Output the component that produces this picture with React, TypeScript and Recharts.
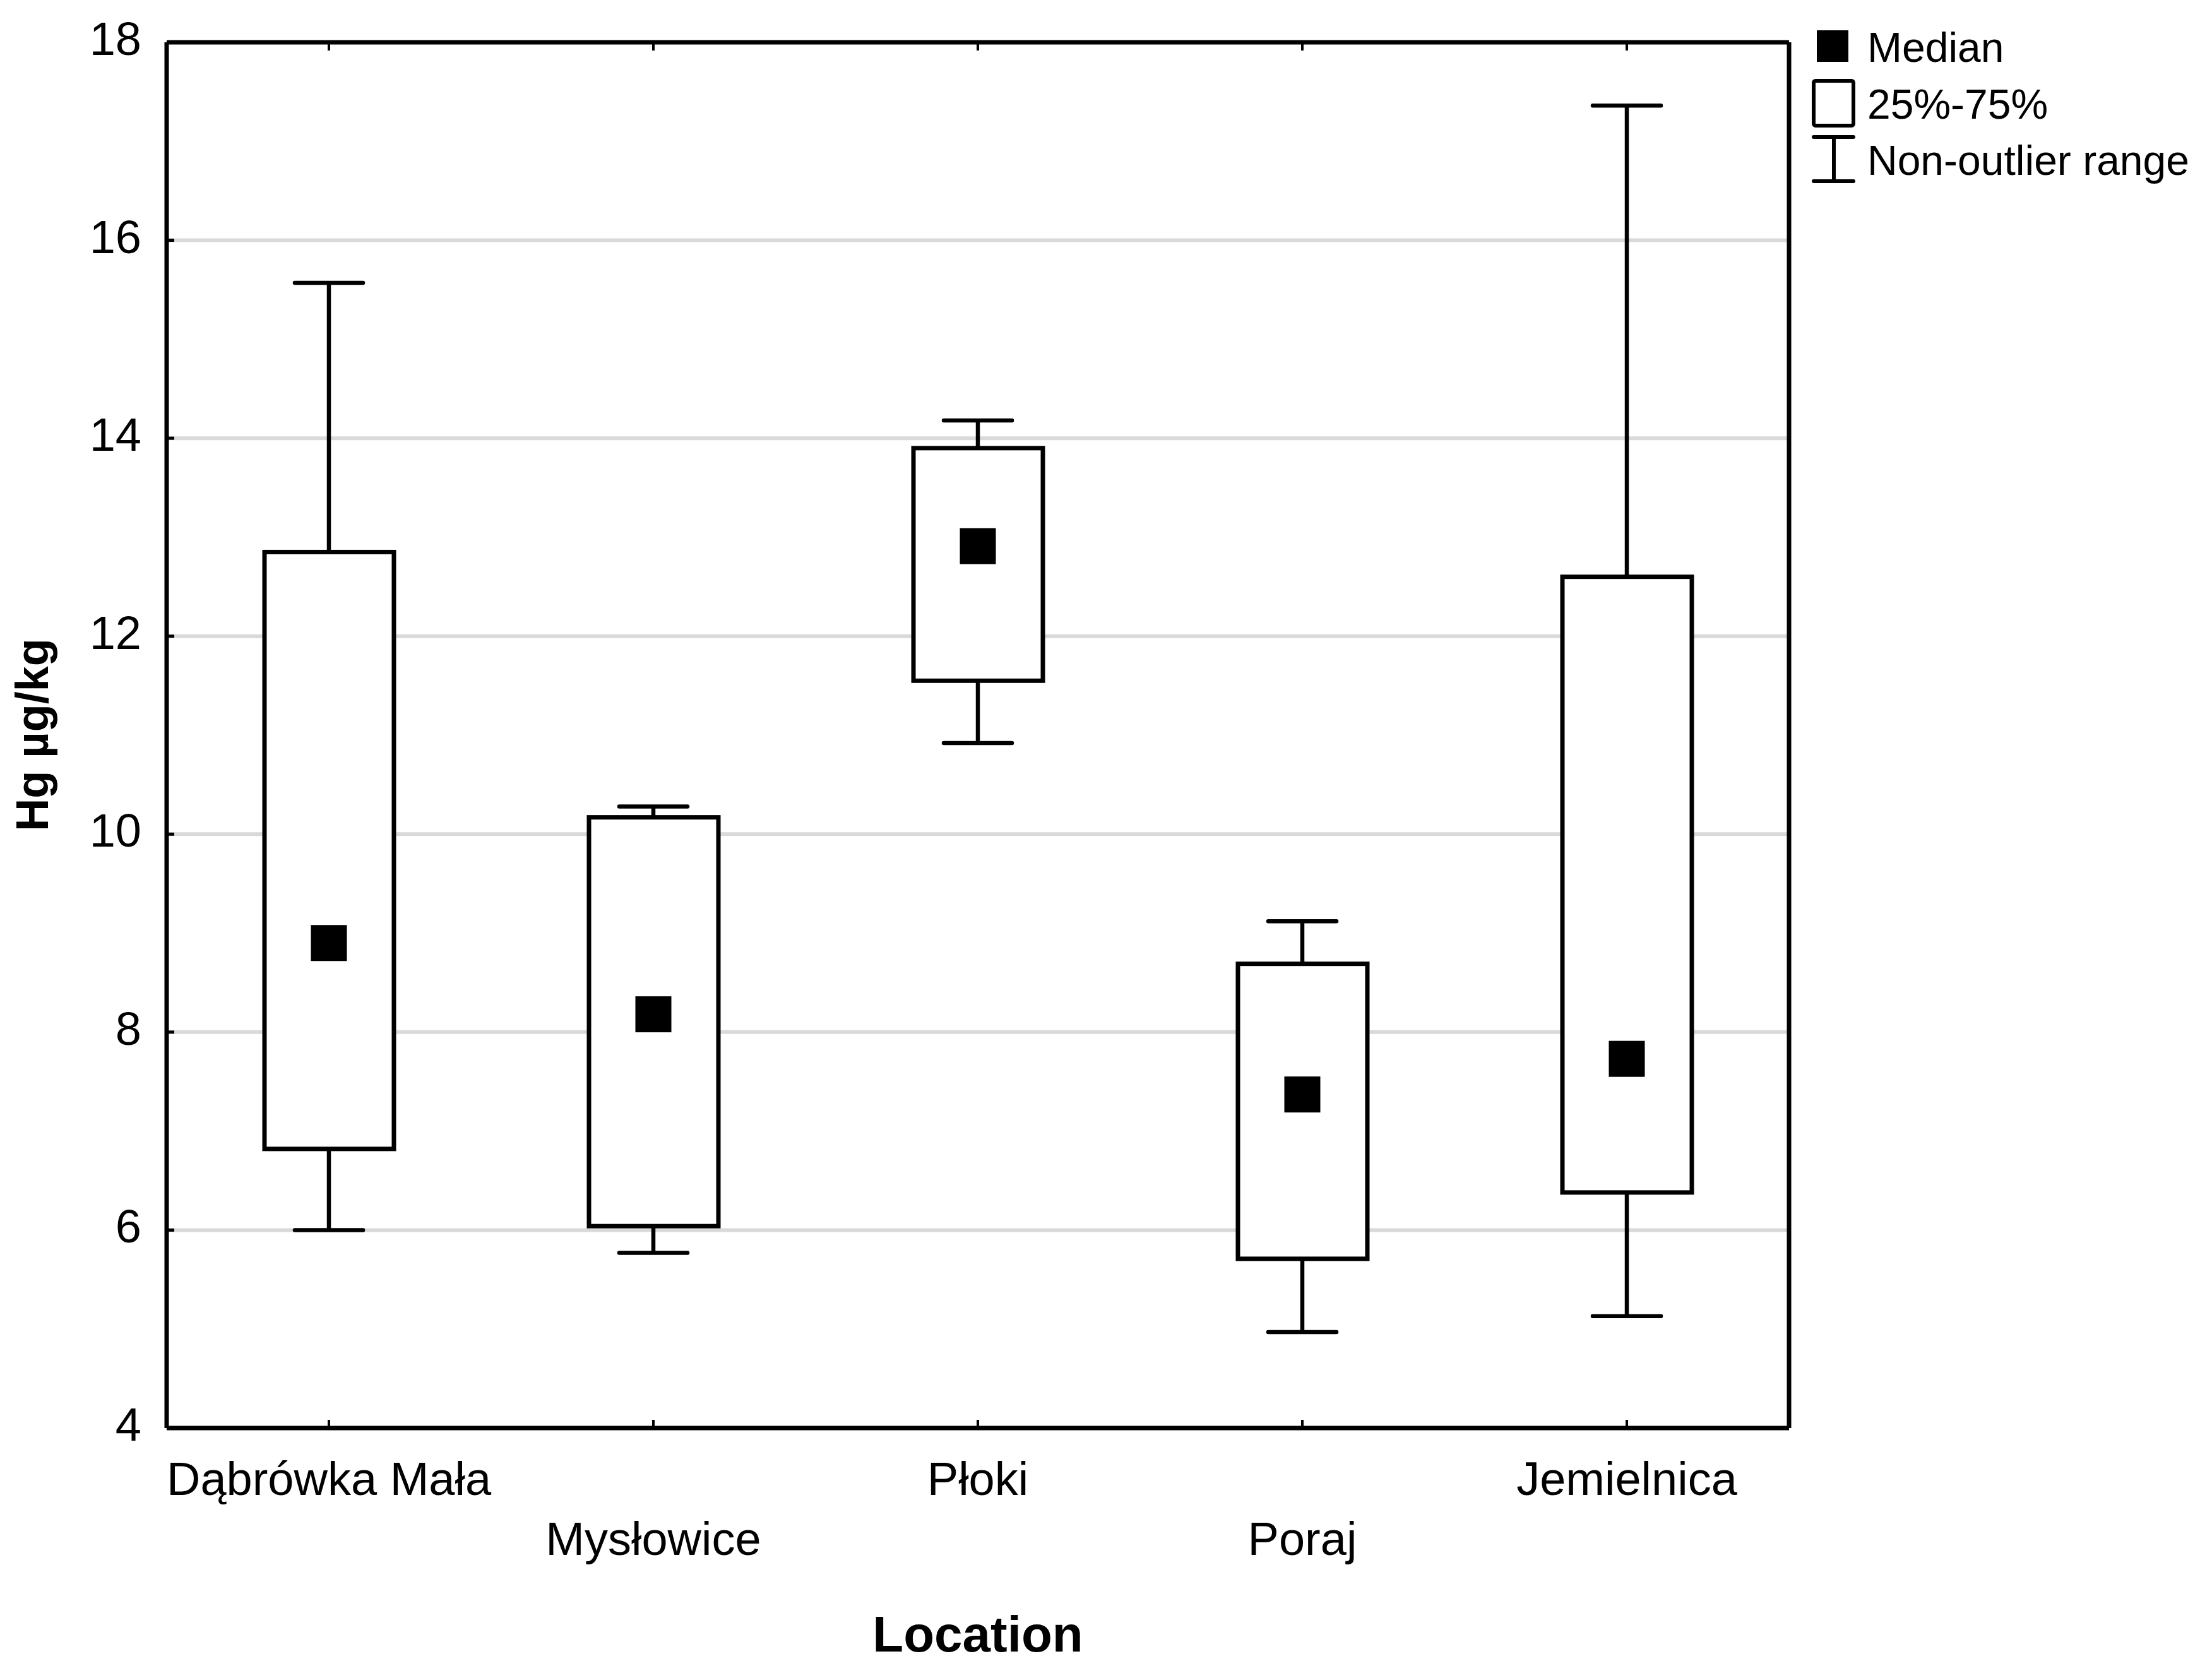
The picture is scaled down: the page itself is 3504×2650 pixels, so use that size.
import React from 'react'
import { ComposedChart, Bar, Line, XAxis, YAxis, CartesianGrid } from 'recharts'

// Hg content per sampling location (box = 25%-75%, whiskers = non-outlier range)
const locations = ['Dąbrówka Mała', 'Mysłowice', 'Płoki', 'Poraj', 'Jemielnica']
const medians = [8.9, 8.18, 12.91, 7.37, 7.73]
const q1 = [6.82, 6.04, 11.55, 5.71, 6.38]
const q3 = [12.85, 10.17, 13.9, 8.69, 12.6]
const lows = [6.0, 5.77, 10.92, 4.97, 5.13]
const highs = [15.57, 10.28, 14.18, 9.12, 17.36]
const yTicks = [4, 6, 8, 10, 12, 14, 16, 18]

const FONT = '"Liberation Sans", Arial, sans-serif'

const data = locations.map((name, i) => ({
    name,
    median: medians[i],
    iqr: [q1[i], q3[i]],
    range: [lows[i], highs[i]],
}))

const BoxShape = (props: any) => {
    const { x, y, width, height } = props
    const top = Math.min(y, y + height)
    const h = Math.abs(height)
    return <rect x={x} y={top} width={width} height={h} fill="#fff" stroke="#000" strokeWidth={7} />
}

const WhiskerShape = (props: any) => {
    const { x, y, width, height } = props
    const top = Math.min(y, y + height)
    const bottom = top + Math.abs(height)
    const cx = x + width / 2
    return (
        <g stroke="#000" strokeWidth={6.5} strokeLinecap="round">
            <line x1={cx} x2={cx} y1={top} y2={bottom} strokeLinecap="butt" />
            <line x1={x} x2={x + width} y1={top} y2={top} />
            <line x1={x} x2={x + width} y1={bottom} y2={bottom} />
        </g>
    )
}

const MedianDot = (props: any) => {
    const { cx, cy } = props
    if (cx == null || cy == null) return null
    const s = 57
    return <rect x={cx - s / 2} y={cy - s / 2} width={s} height={s} fill="#000" />
}

const BottomTick = (props: any) => {
    const { x, y, payload, index } = props
    const dy = index % 2 === 0 ? 106 : 201
    return (
        <g>
            <line x1={x} x2={x} y1={y} y2={y - 13} stroke="#000" strokeWidth={4} />
            <text x={x} y={y + dy} textAnchor="middle" fontSize={74} fontFamily={FONT} fill="#000">
                {payload.value}
            </text>
        </g>
    )
}

const TopTick = (props: any) => {
    const { x, y } = props
    return <line x1={x} x2={x} y1={y} y2={y + 13} stroke="#000" strokeWidth={4} />
}

const LeftTick = (props: any) => {
    const { x, y, payload } = props
    return (
        <g>
            <line x1={x} x2={x + 12} y1={y} y2={y} stroke="#000" strokeWidth={5} />
            <text x={x - 40} y={y + 20} textAnchor="end" fontSize={74} fontFamily={FONT} fill="#000">
                {payload.value}
            </text>
        </g>
    )
}

const RightTick = (props: any) => {
    const { x, y } = props
    return <line x1={x} x2={x - 12} y1={y} y2={y} stroke="#000" strokeWidth={5} />
}

function LegendBox() {
    return (
        <svg width={3504} height={330} style={{ position: 'absolute', left: 0, top: 0, pointerEvents: 'none' }}>
            <rect x={2878} y={48} width={50} height={50} fill="#000" />
            <rect x={2873} y={128} width={63} height={71} rx={3} fill="#fff" stroke="#000" strokeWidth={6} />
            <g stroke="#000" strokeWidth={6} strokeLinecap="round">
                <line x1={2905} x2={2905} y1={217} y2={287} strokeLinecap="butt" />
                <line x1={2873} x2={2936} y1={217} y2={217} />
                <line x1={2873} x2={2936} y1={287} y2={287} />
            </g>
            <g fontSize={66} fontFamily={FONT} fill="#000">
                <text x={2958} y={98}>Median</text>
                <text x={2958} y={188}>25%-75%</text>
                <text x={2958} y={277}>Non-outlier range</text>
            </g>
        </svg>
    )
}

export default function App() {
    return (
        <div style={{ position: 'absolute', left: 0, top: 0, width: 3504, height: 2650, background: '#fff' }}>
            <ComposedChart
                width={3504}
                height={2650}
                data={data}
                margin={{ top: 66, right: 669, bottom: 387, left: 0 }}
            >
                <CartesianGrid xAxisId="main" yAxisId="left" horizontal vertical={false} stroke="#d9d9d9" strokeWidth={6} />
                <XAxis
                    xAxisId="main"
                    dataKey="name"
                    type="category"
                    height={1}
                    tickSize={0}
                    tickMargin={0}
                    interval={0}
                    tickLine={false}
                    axisLine={{ stroke: '#000', strokeWidth: 7 }}
                    tick={<BottomTick />}
                />
                <XAxis xAxisId="w" dataKey="name" type="category" hide />
                <XAxis
                    xAxisId="top"
                    dataKey="name"
                    type="category"
                    orientation="top"
                    height={1}
                    tickSize={0}
                    tickMargin={0}
                    interval={0}
                    tickLine={false}
                    axisLine={{ stroke: '#000', strokeWidth: 7 }}
                    tick={<TopTick />}
                />
                <YAxis
                    yAxisId="left"
                    type="number"
                    domain={[4, 18]}
                    ticks={yTicks}
                    width={264}
                    tickSize={0}
                    tickMargin={0}
                    tickLine={false}
                    interval={0}
                    axisLine={{ stroke: '#000', strokeWidth: 7 }}
                    tick={<LeftTick />}
                    label={{
                        value: 'Hg µg/kg',
                        content: () => (
                            <text
                                x={76}
                                y={1164}
                                transform="rotate(-90, 76, 1164)"
                                textAnchor="middle"
                                fontSize={72}
                                fontWeight="bold"
                                fontFamily={FONT}
                                fill="#000"
                            >
                                Hg µg/kg
                            </text>
                        ),
                    }}
                />
                <YAxis
                    yAxisId="right"
                    orientation="right"
                    type="number"
                    domain={[4, 18]}
                    ticks={yTicks}
                    width={1}
                    tickSize={0}
                    tickMargin={0}
                    tickLine={false}
                    interval={0}
                    axisLine={{ stroke: '#000', strokeWidth: 7 }}
                    tick={<RightTick />}
                />
                <Bar
                    xAxisId="w"
                    yAxisId="left"
                    dataKey="range"
                    barSize={108}
                    shape={<WhiskerShape />}
                    isAnimationActive={false}
                />
                <Bar
                    xAxisId="main"
                    yAxisId="left"
                    dataKey="iqr"
                    barSize={205}
                    shape={<BoxShape />}
                    isAnimationActive={false}
                />
                <Line
                    xAxisId="main"
                    yAxisId="left"
                    dataKey="median"
                    stroke="none"
                    dot={<MedianDot />}
                    activeDot={false}
                    isAnimationActive={false}
                />
                <text x={1549} y={2616} textAnchor="middle" fontSize={80} fontWeight="bold" fontFamily={FONT} fill="#000">
                    Location
                </text>
            </ComposedChart>
            <LegendBox />
        </div>
    )
}
